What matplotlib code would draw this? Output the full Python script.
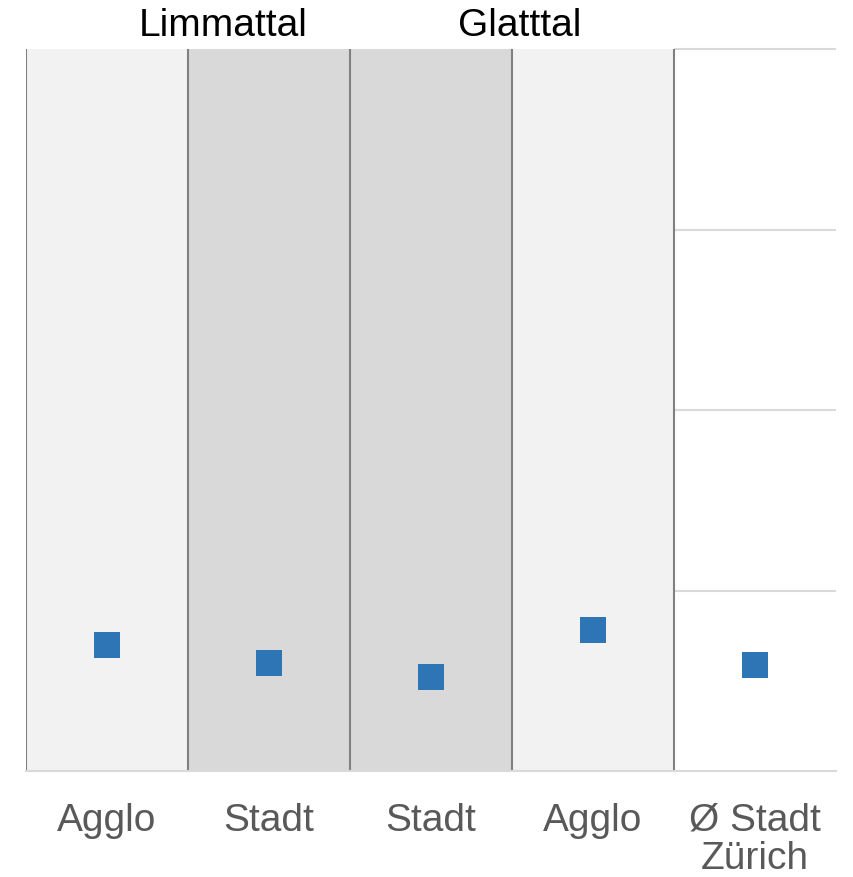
import numpy as np
import matplotlib.pyplot as plt
import matplotlib.transforms as mtransforms

plt.rcParams['font.family'] = ['Liberation Sans', 'DejaVu Sans']

categories = ['Agglo', 'Stadt', 'Stadt', 'Agglo', 'Ø Stadt\nZürich']
values = [0.70, 0.60, 0.52, 0.78, 0.59]
band_colors = ['#f2f2f2', '#d9d9d9', '#d9d9d9', '#f2f2f2', 'none']
groups = ['Limmattal', 'Glatttal']
group_pos = [0.72, 2.55]

fig = plt.figure(figsize=(8.54, 8.78), dpi=100)
ax = fig.add_axes([0.030, 0.1207, 0.949, 0.8223])

x = np.arange(len(categories))
ax.set_xlim(-0.5, len(categories) - 0.5)
ax.set_ylim(0, 4)

# gridlines only show in the last (unshaded) column
for yv in [1, 2, 3, 4]:
    ax.plot([3.5, 4.5], [yv, yv], color='#d9d9d9', lw=1.5, zorder=0,
            clip_on=False, solid_capstyle='butt')
for i, c in enumerate(band_colors):
    if c != 'none':
        ax.axvspan(i - 0.5, i + 0.5, color=c, lw=0, zorder=1)
for b in np.arange(-0.5, len(categories) - 1, 1.0):
    ax.axvline(b, color='#808080', lw=1.5, zorder=2)

ax.scatter(x, values, marker='s', s=350, color='#2e75b6', zorder=3, linewidths=0)

for s in ['top', 'right', 'left']:
    ax.spines[s].set_visible(False)
ax.spines['bottom'].set_color('#d9d9d9')
ax.spines['bottom'].set_linewidth(1.5)
ax.spines['bottom'].set_zorder(2.5)

ax.set_yticks([])
ax.set_xticks(x)
ax.set_xticklabels(categories, fontsize=28, color='#595959', linespacing=1.1)
ax.tick_params(axis='x', length=0, pad=22)

trans = mtransforms.blended_transform_factory(ax.transData, ax.transAxes)
for g, p in zip(groups, group_pos):
    ax.text(p, 1.033, g, transform=trans, ha='center', va='center',
            fontsize=28, color='black')

fig.savefig('out.png', dpi=100)
